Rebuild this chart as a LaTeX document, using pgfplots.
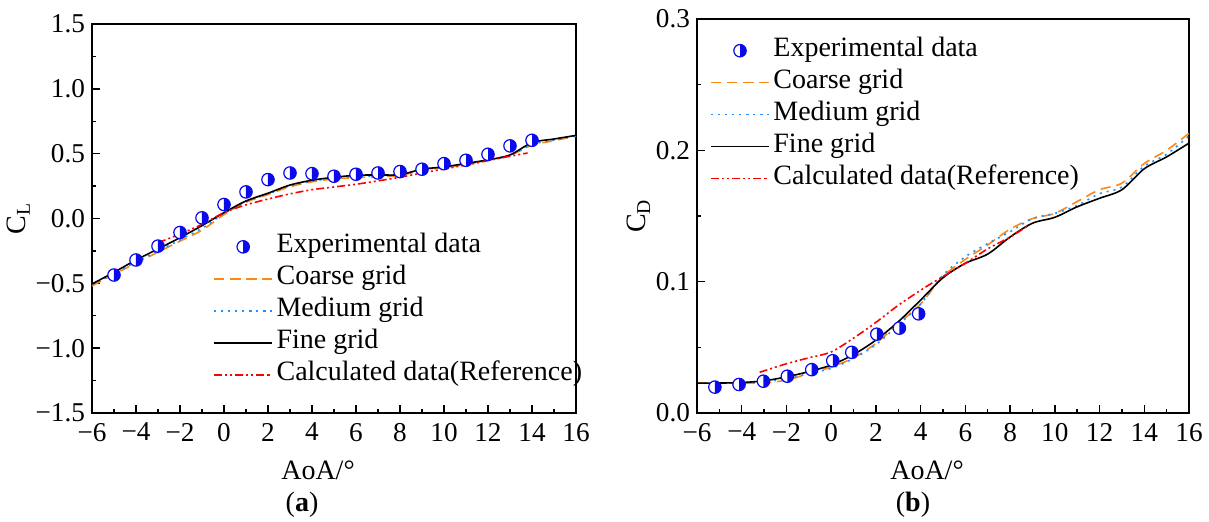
\documentclass[border=0pt]{standalone}
\usepackage{fontspec}
\setmainfont{Liberation Serif}
\usepackage{pgfplots}
\pgfplotsset{compat=1.18}

\definecolor{markblue}{RGB}{10,10,235}
\definecolor{coarseorange}{RGB}{255,135,20}
\definecolor{mediumblue}{RGB}{30,144,255}
\definecolor{refred}{RGB}{255,0,0}

\newcommand{\tickfont}{\fontsize{13.6pt}{16pt}\selectfont}
\newcommand{\figfont}{\fontsize{14pt}{16pt}\selectfont}

% circle with the right half filled
\pgfdeclareplotmark{halfcircle}{%
  \pgfpathcircle{\pgfpointorigin}{\pgfplotmarksize}%
  \pgfsetfillcolor{white}%
  \pgfusepathqfillstroke
  \pgfpathmoveto{\pgfqpoint{0pt}{\pgfplotmarksize}}%
  \pgfpatharc{90}{-90}{\pgfplotmarksize}%
  \pgfpathclose
  \pgfsetfillcolor{markblue}%
  \pgfusepathqfill
}

\pgfplotsset{
  coefaxis/.style={
    scale only axis,
    xmin=-6, xmax=16,
    xtick={-6,-4,...,16},
    xticklabels={−6,−4,−2,0,2,4,6,8,10,12,14,16},
    minor x tick num=1,
    minor y tick num=1,
    tick align=inside,
    xtick pos=left, ytick pos=left,
    major tick length=4pt,
    minor tick length=2.2pt,
    every tick/.style={black, line width=0.7pt},
    axis line style={line width=0.9pt},
    tick label style={font=\tickfont},
    xticklabel style={yshift=-1.5pt},
    label style={font=\figfont},
    xlabel={AoA/°},
    xlabel style={xshift=-8pt, yshift=-3pt},
    ylabel shift=-4pt,
    legend style={draw=none, fill=none, font=\figfont, inner sep=0pt,
      row sep=4pt,
      nodes={inner xsep=1.8pt, inner ysep=0pt, text height=9pt, text depth=3pt}},
    legend cell align=left,
    legend image code/.code={\draw[mark repeat=2,mark phase=2,##1] plot coordinates {(0pt,0pt) (14.5pt,0pt) (29pt,0pt)};},
    expmark/.style={only marks, mark=halfcircle, mark size=3.1pt,
      mark options={draw=markblue, line width=0.6pt}},
    coarse/.style={coarseorange, line width=0.8pt, dash pattern=on 5pt off 3pt, smooth, no markers},
    medium/.style={mediumblue, line width=0.8pt, dash pattern=on 1pt off 2.5pt, smooth, no markers},
    fine/.style={black, line width=0.8pt, smooth, no markers},
    refcalc/.style={refred, line width=0.8pt, dash pattern=on 4pt off 1.5pt on 1pt off 1.5pt on 1pt off 1.5pt, smooth, no markers},
  }
}

\begin{document}
\begin{tikzpicture}
\useasboundingbox (-46pt,-54.5pt) rectangle (558.5pt,206.5pt);

% (a) lift coefficient
\begin{axis}[coefaxis,
  at={(0pt,0pt)}, anchor=south west,
  width=242pt, height=194.5pt,
  ymin=-1.5, ymax=1.5,
  ytick={-1.5,-1,...,1.5},
  yticklabels={−1.5,−1.0,−0.5,0.0,0.5,1.0,1.5},
  ylabel={C\textsubscript{L}},
  legend style={at={(0.25,0.459)}, anchor=north west},
]
\addplot[expmark] coordinates {
  (-5,-0.436) (-4,-0.32) (-3,-0.213) (-2,-0.108) (-1,0.005) (0,0.108)
  (1,0.205) (2,0.30) (3,0.351) (4,0.346) (5,0.326) (6,0.341) (7,0.351)
  (8,0.362) (9,0.38) (10,0.423) (11,0.449) (12,0.495) (13,0.56) (14,0.603)
};
\addlegendentry{Experimental data}
\addplot[coarse] coordinates {
  (-6,-0.52) (-5,-0.43) (-4,-0.345) (-3,-0.26) (-2,-0.175) (-1,-0.09)
  (0,0.03) (1,0.125) (2,0.185) (3,0.245) (4,0.283) (5,0.305) (6,0.315)
  (7,0.322) (8,0.332) (9,0.372) (10,0.392) (11,0.418) (12,0.448)
  (13,0.487) (14,0.565) (15,0.6) (16,0.635)
};
\addlegendentry{Coarse grid}
\addplot[medium] coordinates {
  (-6,-0.512) (-5,-0.425) (-4,-0.335) (-3,-0.25) (-2,-0.165) (-1,-0.075)
  (0,0.038) (1,0.13) (2,0.19) (3,0.25) (4,0.288) (5,0.31) (6,0.322)
  (7,0.328) (8,0.334) (9,0.375) (10,0.395) (11,0.42) (12,0.45)
  (13,0.488) (14,0.57) (15,0.605) (16,0.637)
};
\addlegendentry{Medium grid}
\addplot[fine] coordinates {
  (-6,-0.505) (-5,-0.415) (-4,-0.32) (-3,-0.235) (-2,-0.148) (-1,-0.055)
  (0,0.045) (1,0.135) (2,0.195) (3,0.258) (4,0.295) (5,0.318) (6,0.333)
  (7,0.336) (8,0.338) (9,0.38) (10,0.398) (11,0.425) (12,0.452)
  (13,0.49) (14,0.585) (15,0.613) (16,0.641)
};
\addlegendentry{Fine grid}
\addplot[refcalc] coordinates {
  (-3,-0.187) (-2,-0.12) (-1,-0.045) (0,0.045) (1,0.105) (2,0.15)
  (3,0.19) (4,0.222) (5,0.243) (6,0.264) (7,0.29) (8,0.318) (9,0.35)
  (10,0.382) (11,0.412) (12,0.447) (13,0.48) (13.8,0.505)
};
\addlegendentry{Calculated data(Reference)}
\end{axis}
\node[font=\figfont] at (105pt,-46pt) {(\textbf{a})};

% (b) drag coefficient
\begin{axis}[coefaxis,
  at={(302.5pt,0pt)}, anchor=south west,
  width=246pt, height=197pt,
  ymin=0, ymax=0.3,
  ytick={0,0.1,0.2,0.3},
  yticklabels={0.0,0.1,0.2,0.3},
  ylabel={C\textsubscript{D}},
  legend style={at={(0.026,0.951)}, anchor=north west},
]
\addplot[expmark] coordinates {
  (-5.2,0.0197) (-4.12,0.0217) (-3.03,0.0242) (-1.96,0.028) (-0.87,0.033)
  (0.07,0.0398) (0.92,0.0462) (2.04,0.060) (3.05,0.0646) (3.91,0.0755)
};
\addlegendentry{Experimental data}
\addplot[coarse] coordinates {
  (-6,0.0228) (-5,0.0228) (-4,0.0228) (-3,0.023) (-2,0.025) (-1,0.03)
  (0,0.035) (1,0.042) (2,0.053) (3,0.068) (4,0.083) (5,0.104) (6,0.117)
  (7,0.128) (8,0.14) (9,0.148) (10,0.152) (11,0.161) (12,0.17)
  (13,0.175) (14,0.19) (15,0.2) (16,0.213)
};
\addlegendentry{Coarse grid}
\addplot[medium] coordinates {
  (-6,0.0228) (-5,0.0228) (-4,0.023) (-3,0.024) (-2,0.026) (-1,0.03)
  (0,0.034) (1,0.0415) (2,0.052) (3,0.067) (4,0.083) (5,0.105) (6,0.119)
  (7,0.129) (8,0.138) (9,0.148) (10,0.152) (11,0.158) (12,0.167)
  (13,0.172) (14,0.188) (15,0.197) (16,0.211)
};
\addlegendentry{Medium grid}
\addplot[fine] coordinates {
  (-6,0.0228) (-5,0.0228) (-4,0.0232) (-3,0.0245) (-2,0.0275) (-1,0.0315)
  (0,0.0365) (1,0.0445) (2,0.0555) (3,0.0695) (4,0.086) (5,0.103)
  (6,0.114) (7,0.121) (8,0.134) (9,0.1445) (10,0.149) (11,0.157)
  (12,0.1635) (13,0.17) (14,0.186) (15,0.195) (16,0.2055)
};
\addlegendentry{Fine grid}
\addplot[refcalc] coordinates {
  (-3.2,0.031) (-2,0.0375) (-1,0.042) (0,0.0465) (1,0.057) (2,0.069)
  (3,0.082) (4,0.0935) (5,0.104) (6,0.114) (7,0.125) (8,0.134) (8.8,0.1425)
};
\addlegendentry{Calculated data(Reference)}
\end{axis}
\node[font=\figfont] at (302.5pt+108pt,-46pt) {(\textbf{b})};
\end{tikzpicture}
\end{document}
